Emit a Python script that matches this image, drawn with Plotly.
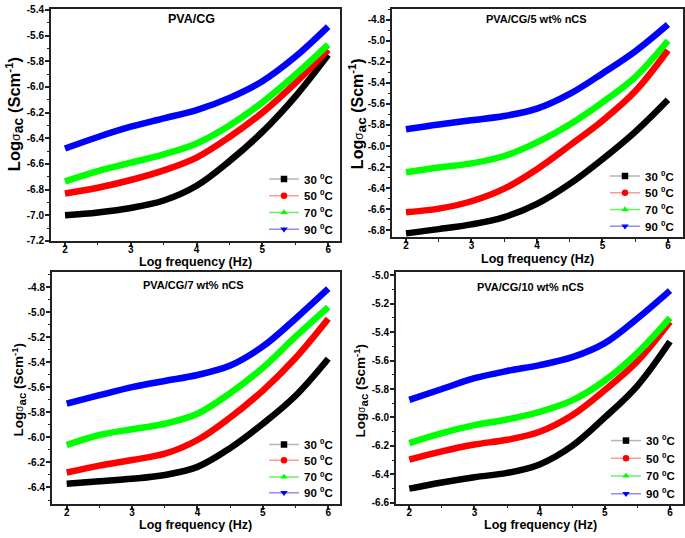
import plotly.graph_objects as go

# ---------------- data ----------------
log_freq = [2.0, 2.5, 3.0, 3.5, 4.0, 4.5, 5.0, 5.5, 6.0]
temps = ["30", "50", "70", "90"]
panel_titles = ["PVA/CG", "PVA/CG/5 wt% nCS", "PVA/CG/7 wt% nCS", "PVA/CG/10 wt% nCS"]

# PVA/CG
pva_cg_30 = [-7.00, -6.978, -6.943, -6.885, -6.77, -6.578, -6.35, -6.075, -5.75]
pva_cg_50 = [-6.83, -6.785, -6.725, -6.65, -6.55, -6.39, -6.20, -5.97, -5.71]
pva_cg_70 = [-6.735, -6.655, -6.59, -6.525, -6.44, -6.30, -6.12, -5.905, -5.67]
pva_cg_90 = [-6.48, -6.39, -6.31, -6.245, -6.18, -6.085, -5.955, -5.765, -5.53]

# PVA/CG/5 wt% nCS
ncs5_30 = [-6.83, -6.79, -6.745, -6.675, -6.55, -6.36, -6.125, -5.865, -5.56]
ncs5_50 = [-6.63, -6.595, -6.525, -6.405, -6.22, -5.995, -5.76, -5.48, -5.09]
ncs5_70 = [-6.25, -6.205, -6.165, -6.095, -5.965, -5.795, -5.585, -5.345, -5.00]
ncs5_90 = [-5.84, -5.795, -5.755, -5.715, -5.645, -5.505, -5.31, -5.10, -4.845]

# PVA/CG/7 wt% nCS
ncs7_30 = [-6.37, -6.35, -6.33, -6.30, -6.235, -6.085, -5.89, -5.666, -5.37]
ncs7_50 = [-6.28, -6.225, -6.18, -6.13, -6.02, -5.84, -5.625, -5.364, -5.05]
ncs7_70 = [-6.06, -5.98, -5.934, -5.89, -5.81, -5.645, -5.443, -5.194, -4.957]
ncs7_90 = [-5.73, -5.662, -5.597, -5.548, -5.50, -5.425, -5.272, -5.05, -4.81]

# PVA/CG/10 wt% nCS
ncs10_30 = [-6.50, -6.457, -6.42, -6.39, -6.33, -6.20, -6.00, -5.777, -5.466]
ncs10_50 = [-6.296, -6.238, -6.19, -6.157, -6.10, -5.984, -5.807, -5.604, -5.327]
ncs10_70 = [-6.18, -6.11, -6.054, -6.014, -5.96, -5.88, -5.74, -5.546, -5.30]
ncs10_90 = [-5.876, -5.80, -5.724, -5.673, -5.632, -5.576, -5.477, -5.304, -5.108]

x_ticks = [2, 3, 4, 5, 6]
y_ticks_cg = [-7.2, -7.0, -6.8, -6.6, -6.4, -6.2, -6.0, -5.8, -5.6, -5.4]
y_ticks_5 = [-6.8, -6.6, -6.4, -6.2, -6.0, -5.8, -5.6, -5.4, -5.2, -5.0, -4.8]
y_ticks_7 = [-6.4, -6.2, -6.0, -5.8, -5.6, -5.4, -5.2, -5.0, -4.8]
y_ticks_10 = [-6.6, -6.4, -6.2, -6.0, -5.8, -5.6, -5.4, -5.2, -5.0]

panels_data = [
    [pva_cg_30, pva_cg_50, pva_cg_70, pva_cg_90],
    [ncs5_30, ncs5_50, ncs5_70, ncs5_90],
    [ncs7_30, ncs7_50, ncs7_70, ncs7_90],
    [ncs10_30, ncs10_50, ncs10_70, ncs10_90],
]
panels_yticks = [y_ticks_cg, y_ticks_5, y_ticks_7, y_ticks_10]

# ---------------- styling ----------------
W, H = 685, 538
FONT = "Liberation Sans, Arial, sans-serif"
line_colors = ["#000000", "#ff0000", "#00ff00", "#0000ff"]
legend_line_colors = ["#b4b4b4", "#ff9a9a", "#66ee66", "#8c8cff"]
symbols = ["square", "circle", "triangle-up", "triangle-down"]

# pixel boxes: (left, right, top, bottom)
boxes = [(51, 340, 5, 241), (392, 683, 5, 237), (52, 340, 273, 508), (396, 683, 273, 508)]
x_ranges = [[1.787, 6.18], [1.786, 6.23], [1.775, 6.18], [1.796, 6.2]]
y_ranges = [[-7.2, -5.392], [-6.865, -4.697], [-6.528, -4.68], [-6.605, -4.98]]
title_pos = [(191, 15, 12.5), (536, 15, 11), (193, 286, 11), (530, 288, 11)]
xtitle_pos = [(195, 262), (537, 259), (196, 529.5), (540, 529.5)]
ytitle_pos = [(14, 112, 16.5), (357, 112, 16), (19, 393, 13.5), (361, 393, 13.5)]
legend_right = [338, 679, 338, 680]
legend_rows = [(178, 195, 212, 229), (175, 192, 209, 226), (448, 464, 481, 497), (444, 462, 480, 498)]


def px_x(p):
    return p / W


def px_y(p):
    return 1 - p / H


fig = go.Figure()
layout = {}
annotations = []

for i in range(4):
    sfx = "" if i == 0 else str(i + 1)
    xa, ya = "x" + sfx, "y" + sfx
    for k in range(4):
        fig.add_trace(go.Scatter(
            x=log_freq, y=panels_data[i][k], mode="lines",
            line=dict(color=line_colors[k], width=6.5, shape="spline", smoothing=1.0),
            xaxis=xa, yaxis=ya, showlegend=False, hoverinfo="skip"))
    for k in range(4):
        n = i * 4 + k
        lg = "legend" if n == 0 else f"legend{n + 1}"
        fig.add_trace(go.Scatter(
            x=[None], y=[None], mode="lines+markers",
            name=f"{temps[k]} <sup>0</sup>C",
            line=dict(color=legend_line_colors[k], width=1.5),
            marker=dict(color=line_colors[k], symbol=symbols[k], size=6.5),
            xaxis=xa, yaxis=ya, showlegend=True, legend=lg))
        layout[lg] = dict(
            x=px_x(legend_right[i]), y=px_y(legend_rows[i][k]),
            xanchor="right", yanchor="middle", xref="paper", yref="paper",
            bgcolor="rgba(0,0,0,0)", borderwidth=0,
            font=dict(family=FONT, size=11.5, color="black", weight="bold"),
            itemwidth=30,
        )

    l, r, t, b = boxes[i]
    axis_common = dict(
        showline=True, linecolor="#222222", linewidth=2, mirror=True,
        ticks="outside", ticklen=4, tickwidth=1.5, tickcolor="#222222",
        showgrid=False, zeroline=False, layer="above traces",
        tickfont=dict(family=FONT, size=10, color="black", weight="bold"),
    )
    layout["xaxis" + sfx] = dict(
        axis_common, domain=[px_x(l), px_x(r)], range=x_ranges[i], anchor=ya,
        tickmode="array", tickvals=x_ticks, ticktext=[str(v) for v in x_ticks],
        ticklabelstandoff=-6,
        minor=dict(ticks="outside", ticklen=2.5, tickwidth=1.2, tickcolor="#222222",
                   tick0=2, dtick=0.5, showgrid=False),
    )
    yt = panels_yticks[i]
    layout["yaxis" + sfx] = dict(
        axis_common, domain=[px_y(b), px_y(t)], range=y_ranges[i], anchor=xa,
        tickmode="array", tickvals=yt, ticktext=[f"{v:.1f}" for v in yt],
        ticklabelstandoff=-1,
        minor=dict(ticks="outside", ticklen=2.5, tickwidth=1.2, tickcolor="#222222",
                   tick0=0, dtick=0.1, showgrid=False),
    )

    tx, ty, tsz = title_pos[i]
    annotations.append(dict(
        text=f"<b>{panel_titles[i]}</b>", x=px_x(tx), y=px_y(ty), xref="paper", yref="paper",
        xanchor="center", yanchor="middle", showarrow=False,
        font=dict(family=FONT, size=tsz, color="black")))
    xx, xy = xtitle_pos[i]
    annotations.append(dict(
        text="<b>Log frequency (Hz)</b>", x=px_x(xx), y=px_y(xy), xref="paper", yref="paper",
        xanchor="center", yanchor="middle", showarrow=False,
        font=dict(family=FONT, size=12.5, color="black")))
    yx, yy, ysz = ytitle_pos[i]
    annotations.append(dict(
        text=("<b>Log</b><span style='font-size:%.1fpx'>σ</span>"
              "<b><sub><span style='font-size:%.1fpx'>ac</span></sub> (Scm<sup>-1</sup>)</b>")
             % (ysz * 0.75, ysz * 0.85),
        x=px_x(yx), y=px_y(yy), xref="paper", yref="paper",
        xanchor="center", yanchor="middle", showarrow=False, textangle=-90,
        font=dict(family=FONT, size=ysz, color="black")))

fig.update_layout(
    width=W, height=H, margin=dict(l=0, r=0, t=0, b=0),
    paper_bgcolor="white", plot_bgcolor="white",
    annotations=annotations, **layout)

fig.write_html("out.html", config={"displayModeBar": False},
               post_script="document.body.style.margin='0px';")
